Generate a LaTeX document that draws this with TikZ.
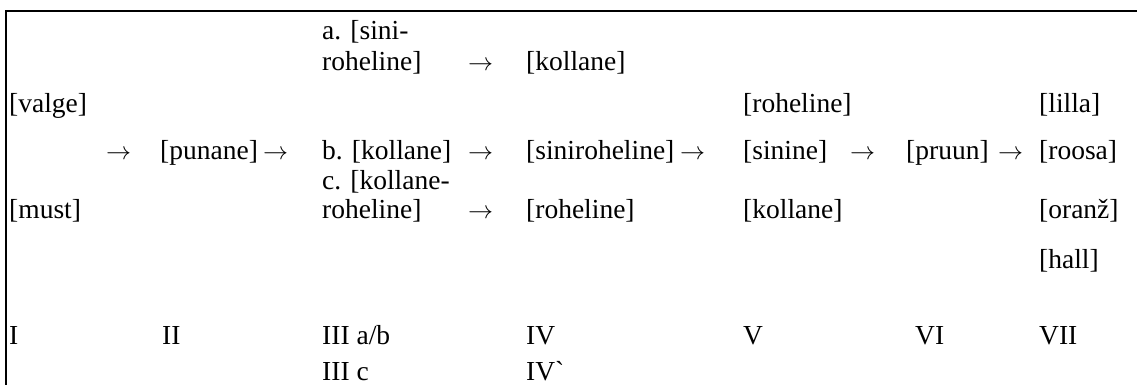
\documentclass[tikz,border=0pt]{standalone}
\usepackage{graphicx}
\usepackage{fontspec}
\setmainfont{Liberation Serif}
\newfontfamily\rawfont{Liberation Serif}[Ligatures=TeXOff]
\newcommand{\rarr}{\resizebox{25pt}{!}{$\rightarrow$}}
\begin{document}
\begin{tikzpicture}[x=1pt,y=-1pt,
  txt/.style={anchor=base west,inner sep=0pt,font=\fontsize{27.5}{32}\selectfont},
  arr/.style={txt},
  last/.style={txt,text depth=0pt},
  frame/.style={line width=2pt}]
\useasboundingbox (0,0) rectangle (1137,385);
% frame
\coordinate (tl) at (6,11);
\coordinate (tr) at (1137,11);
\coordinate (bl) at (6,385);
\draw[frame] (bl) -- (tl) -- (tr);
% row a
\node[txt] (a1) at (322,40) {a. [sini-};
\node[txt] (a2) at (322,71) {roheline]};
\node[arr] (ar3a) at (468,71) {\rarr};
\node[txt] (kol4) at (526,71) {[kollane]};
% row valge
\node[txt] (valge) at (9,113) {[valge]};
\node[txt] (roh5) at (743,113) {[roheline]};
\node[txt] (lilla) at (1039,113) {[lilla]};
% main row
\node[arr] (ar1) at (106,159) {\rarr};
\node[txt] (punane) at (160,159) {[punane]};
\node[arr] (ar2) at (263,159) {\rarr};
\node[txt] (b) at (322,159) {b. [kollane]};
\node[arr] (ar3) at (468,159) {\rarr};
\node[txt] (sinroh) at (526,159) {[siniroheline]};
\node[arr] (ar4) at (680,159) {\rarr};
\node[txt] (sinine) at (743,159) {[sinine]};
\node[arr] (ar5) at (850,159) {\rarr};
\node[txt] (pruun) at (906,159) {[pruun]};
\node[arr] (ar6) at (998,159) {\rarr};
\node[txt] (roosa) at (1039,159) {[roosa]};
% row c
\node[txt] (c1) at (322,189) {c. [kollane-};
\node[txt] (must) at (9,218) {[must]};
\node[txt] (c2) at (322,218) {roheline]};
\node[arr] (ar3c) at (468,218) {\rarr};
\node[txt] (roh4) at (526,218) {[roheline]};
\node[txt] (kol5) at (743,218) {[kollane]};
\node[txt] (oranz) at (1039,218) {[oranž]};
\node[txt] (hall) at (1039,268) {[hall]};
% stages
\node[txt] (s1) at (9,344) {I};
\node[txt] (s2) at (162,344) {II};
\node[txt] (s3) at (322,344) {III a/b};
\node[last] (s3c) at (322,380) {III c};
\node[txt] (s4) at (526,344) {IV};
\node[last] (s4b) at (526,380) {IV{\rawfont`}};
\node[txt] (s5) at (743,344) {V};
\node[txt] (s6) at (915,344) {VI};
\node[txt] (s7) at (1039,344) {VII};
\end{tikzpicture}
\end{document}
